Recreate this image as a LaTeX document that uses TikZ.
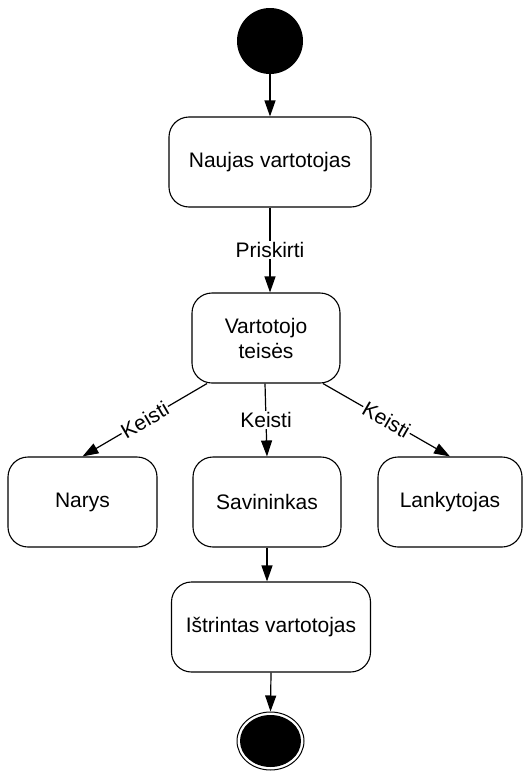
\documentclass[tikz,border=0pt]{standalone}
\usepackage{fontspec}
\setmainfont{Liberation Sans}
\usetikzlibrary{arrows.meta,shapes.geometric,calc}
\begin{document}
\begin{tikzpicture}[x=1pt,y=-1pt,
  font=\fontsize{21}{25}\selectfont,
  state/.style={draw=black, line width=1.1pt, rounded corners=20pt,
    inner sep=0pt, align=center, minimum height=90pt},
  flow/.style={draw=black, line width=1.2pt,
    -{Triangle[length=16pt,width=11pt]}},
  lbl/.style={fill=white, inner sep=1pt}
]
\useasboundingbox (0,0) rectangle (531,771);

% initial and final states
\node[circle, fill=black, minimum size=66pt, inner sep=0pt] (start) at (270,41) {};
\node[ellipse, draw=black, line width=1pt, minimum width=67pt, minimum height=58pt,
  inner sep=0pt] (finish) at (270.5,741) {};
\node[ellipse, fill=black, minimum width=61pt, minimum height=52pt,
  inner sep=0pt] (finishcore) at (270.5,741) {};

% activity states
\node[state, minimum width=202pt] (naujas) at (270,162) {Naujas vartotojas};
\node[state, minimum width=148pt] (teises) at (266,338) {Vartotojo\\teisės};
\node[state, minimum width=149pt] (narys) at (82.5,502) {Narys};
\node[state, minimum width=148pt] (savininkas) at (267,502) {Savininkas};
\node[state, minimum width=144pt] (lankytojas) at (450,502) {Lankytojas};
\node[state, minimum width=199pt] (istrintas) at (271,627) {Ištrintas vartotojas};

% transitions
\draw[flow] (start.south) -- (start.south |- naujas.north);
\draw[flow] (naujas.south) -- node[lbl] {Priskirti} (naujas.south |- teises.north);
\draw[flow] ($(teises.south)+(-59,0)$) -- node[lbl, sloped] {Keisti} (narys.north);
\draw[flow] ($(teises.south)+(-1,0)$) -- node[lbl] {Keisti} (savininkas.north);
\draw[flow] ($(teises.south)+(57,0)$) -- node[lbl, sloped] {Keisti} (lankytojas.north);
\draw[flow] (savininkas.south) -- (savininkas.south |- istrintas.north);
\draw[flow] (istrintas.south) -- (finish.north);
\end{tikzpicture}
\end{document}
